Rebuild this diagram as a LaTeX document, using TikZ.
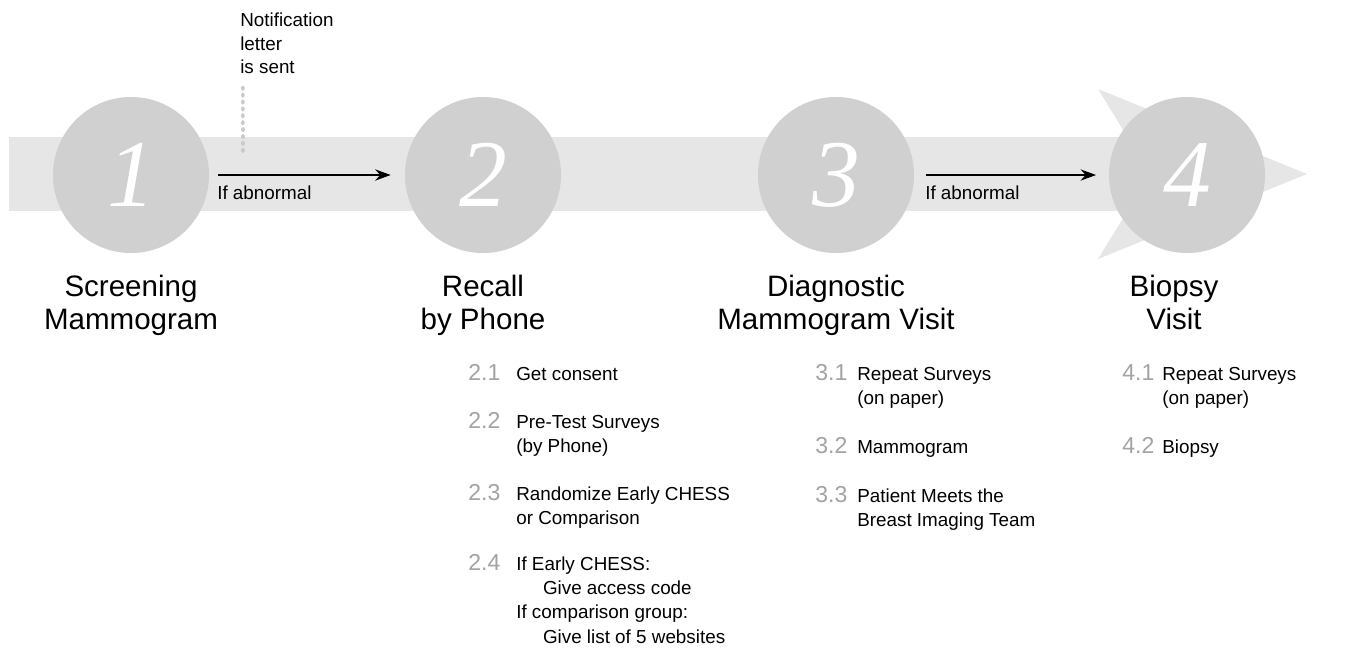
\documentclass[tikz,border=0pt]{standalone}
\usepackage{fontspec}
\setmainfont{Liberation Sans}
\newfontfamily\digitfont{Liberation Serif}
\usetikzlibrary{arrows.meta}

\definecolor{bandgray}{HTML}{E6E6E6}
\definecolor{discgray}{HTML}{D0D0D0}
\definecolor{numgray}{HTML}{A3A3A3}
\definecolor{dotgray}{HTML}{CACACA}

\newcommand{\stackrows}[2][l]{\begin{tabular}[t]{@{}#1@{}}#2\end{tabular}}

\tikzset{
    stage/.style={circle, fill=discgray, minimum size=3.9cm, inner sep=0pt,
        text=white, font=\digitfont\itshape\fontsize{68}{68}\selectfont},
    title/.style={anchor=base, inner sep=0pt, font=\fontsize{21}{23.5}\selectfont},
    small/.style={anchor=base west, inner sep=0pt, font=\fontsize{13.4}{16.4}\selectfont},
    stepnum/.style={anchor=base west, inner sep=0pt, text=numgray,
        font=\fontsize{16.4}{17.4}\selectfont},
    steptext/.style={anchor=base west, inner sep=0pt, font=\fontsize{13.4}{17.4}\selectfont},
    flow/.style={-{Stealth[length=11pt,width=8pt]}, line width=1.1pt},
    dots/.style={dotgray, line width=2.6pt, line cap=round, dash pattern=on 1.3pt off 3.6pt}
}

\begin{document}
\begin{tikzpicture}[x=0.025cm, y=-0.025cm]
                    \useasboundingbox (0, 0) rectangle (1371, 650);

                    %%band and arrow head
                    \fill[bandgray] (9, 137) rectangle (1150, 211);
                    \fill[bandgray] (1098, 89) -- (1307, 174) -- (1098, 259) -- (1150, 174) -- cycle;

                    %%stages
                    \node[stage] (s1) at (131, 175){1};
                    \node[stage] (s2) at (483, 175){2};
                    \node[stage] (s3) at (836, 175){3};
                    \node[stage] (s4) at (1187, 175){4};

                    %%arrows
                    \draw[flow, shorten <=6.5pt, shorten >=10pt] (s1) -- (s2);
                        \node[small] (ab1) at (217, 199){If abnormal};
                    \draw[flow, shorten <=8.5pt, shorten >=9pt] (s3) -- (s4);
                        \node[small] (ab2) at (925, 199){If abnormal};

                    %%letter
                    \node[small] (note) at (240, 27){\stackrows{Notification\\letter\\is sent}};
                    \coordinate (drop) at (243, 156);
                    \draw[dots] ([xshift=2pt, yshift=-5pt]note.south west) -- (drop);

                    %%titles
                    \node[title] (h1) at (131, 296){\stackrows[c]{Screening\\Mammogram}};
                    \node[title] (h2) at (483, 296){\stackrows[c]{Recall\\by Phone}};
                    \node[title] (h3) at (836, 296){\stackrows[c]{Diagnostic\\Mammogram Visit}};
                    \node[title] (h4) at (1174, 296){\stackrows[c]{Biopsy\\Visit}};

                    %%steps 2
                    \node[stepnum] (n21) at (468, 380){2.1};
                        \node[steptext] (t21) at (516, 380){Get consent};
                    \node[stepnum] (n22) at (468, 428){2.2};
                        \node[steptext] (t22) at (516, 428){\stackrows{Pre-Test Surveys\\(by Phone)}};
                    \node[stepnum] (n23) at (468, 500){2.3};
                        \node[steptext] (t23) at (516, 500){\stackrows{Randomize Early CHESS\\or Comparison}};
                    \node[stepnum] (n24) at (468, 570){2.4};
                        \node[steptext] (t24) at (516, 570){\stackrows{If Early CHESS:\\\hspace*{19pt}Give access code\\If comparison group:\\\hspace*{19pt}Give list of 5 websites}};

                    %%steps 3
                    \node[stepnum] (n31) at (815, 380){3.1};
                        \node[steptext] (t31) at (857, 380){\stackrows{Repeat Surveys\\(on paper)}};
                    \node[stepnum] (n32) at (815, 453){3.2};
                        \node[steptext] (t32) at (857, 453){Mammogram};
                    \node[stepnum] (n33) at (815, 502){3.3};
                        \node[steptext] (t33) at (857, 502){\stackrows{Patient Meets the\\Breast Imaging Team}};

                    %%steps 4
                    \node[stepnum] (n41) at (1122, 380){4.1};
                        \node[steptext] (t41) at (1162, 380){\stackrows{Repeat Surveys\\(on paper)}};
                    \node[stepnum] (n42) at (1122, 453){4.2};
                        \node[steptext] (t42) at (1162, 453){Biopsy};
\end{tikzpicture}
\end{document}
